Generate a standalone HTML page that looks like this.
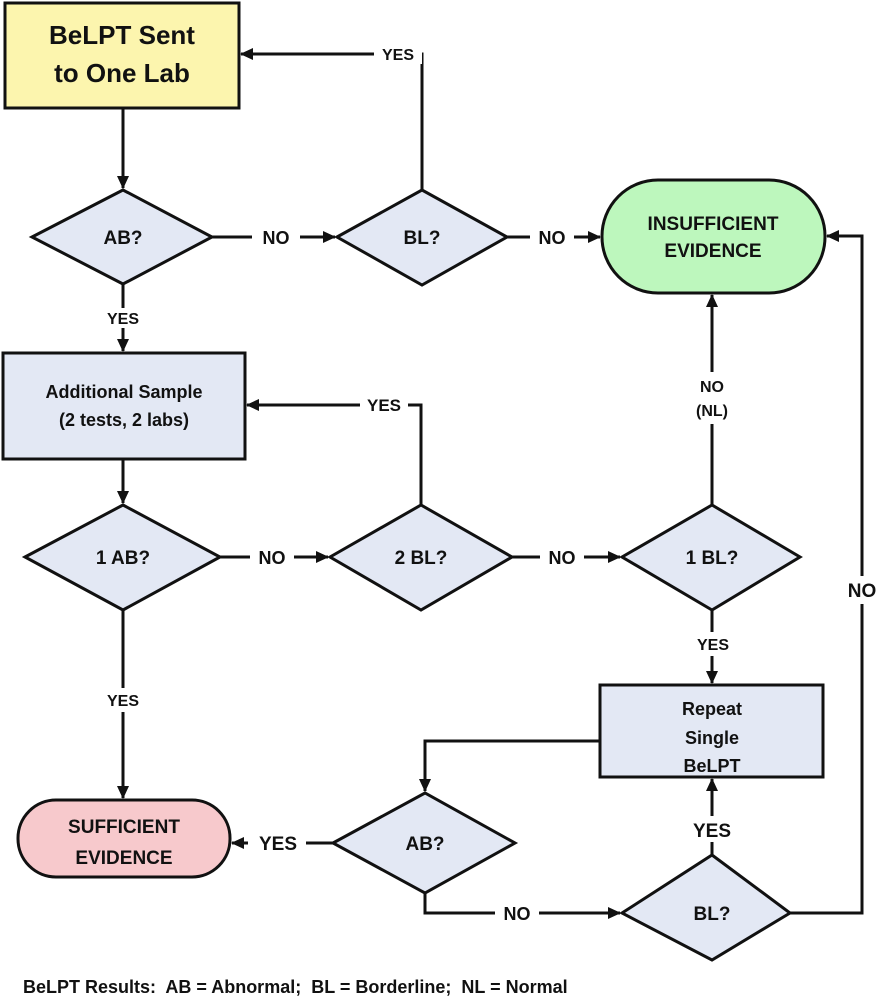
<!DOCTYPE html>
<html><head><style>
html,body{margin:0;padding:0;background:#fff;}
svg{display:block;font-family:"Liberation Sans",sans-serif;font-weight:bold;}
</style></head><body>
<svg width="880" height="1000" viewBox="0 0 880 1000" xmlns="http://www.w3.org/2000/svg">
<defs>
<marker id="a" markerWidth="14" markerHeight="14" refX="12" refY="6" orient="auto" markerUnits="userSpaceOnUse">
<path d="M0,0 L13,6 L0,12 z" fill="#111"/></marker>
</defs>
<g stroke="#111" stroke-width="3" fill="none">
<rect x="5" y="3" width="234" height="105" fill="#fcf5ae"/>
<polygon points="32,237 123,190 212,237 123,284" fill="#e3e8f4"/>
<polygon points="337,237 422,190 507,237 422,285" fill="#e3e8f4"/>
<rect x="602" y="180" width="223" height="113" rx="56" fill="#bdf7bd"/>
<rect x="3" y="353" width="242" height="106" fill="#e3e8f4"/>
<polygon points="25,557 123,505 220,557 123,610" fill="#e3e8f4"/>
<polygon points="330,557 421,505 512,557 421,610" fill="#e3e8f4"/>
<polygon points="622,557 712,505 800,557 712,610" fill="#e3e8f4"/>
<rect x="600" y="685" width="223" height="92" fill="#e3e8f4"/>
<rect x="18" y="800" width="212" height="77" rx="38" fill="#f7c9cc"/>
<polygon points="333,843 425,793 515,843 425,893" fill="#e3e8f4"/>
<polygon points="622,913 712,855 790,913 712,960" fill="#e3e8f4"/>
<path d="M123,108 V188" marker-end="url(#a)"/>
<path d="M212,237 H335" marker-end="url(#a)"/>
<path d="M422,190 V54 H241" marker-end="url(#a)"/>
<path d="M507,237 H600" marker-end="url(#a)"/>
<path d="M123,284 V351" marker-end="url(#a)"/>
<path d="M421,505 V405 H247" marker-end="url(#a)"/>
<path d="M123,459 V503" marker-end="url(#a)"/>
<path d="M220,557 H328" marker-end="url(#a)"/>
<path d="M512,557 H620" marker-end="url(#a)"/>
<path d="M712,505 V295" marker-end="url(#a)"/>
<path d="M123,610 V798" marker-end="url(#a)"/>
<path d="M712,610 V683" marker-end="url(#a)"/>
<path d="M600,741 H425 V791" marker-end="url(#a)"/>
<path d="M333,843 H232" marker-end="url(#a)"/>
<path d="M425,893 V913 H620" marker-end="url(#a)"/>
<path d="M712,855 V779" marker-end="url(#a)"/>
<path d="M790,913 H862 V236 H827" marker-end="url(#a)"/>
</g>
<g fill="#fff">
<rect x="374" y="44" width="48" height="20"/>
<rect x="252" y="227" width="48" height="20"/>
<rect x="530" y="227" width="44" height="20"/>
<rect x="98" y="308" width="50" height="20"/>
<rect x="360" y="395" width="48" height="20"/>
<rect x="250" y="547" width="44" height="20"/>
<rect x="540" y="547" width="44" height="20"/>
<rect x="690" y="372" width="44" height="52"/>
<rect x="98" y="688" width="50" height="24"/>
<rect x="688" y="632" width="50" height="24"/>
<rect x="248" y="832" width="58" height="22"/>
<rect x="495" y="902" width="44" height="22"/>
<rect x="686" y="816" width="52" height="26"/>
<rect x="840" y="576" width="44" height="28"/>
</g>
<g fill="#111" text-anchor="middle">
<text x="122" y="44" font-size="26">BeLPT Sent</text>
<text x="122" y="82" font-size="26">to One Lab</text>
<text x="123" y="244" font-size="19">AB?</text>
<text x="422" y="244" font-size="19">BL?</text>
<text x="713" y="230" font-size="19">INSUFFICIENT</text>
<text x="713" y="257" font-size="19">EVIDENCE</text>
<text x="124" y="398" font-size="18">Additional Sample</text>
<text x="124" y="426" font-size="18">(2 tests, 2 labs)</text>
<text x="123" y="564" font-size="19">1 AB?</text>
<text x="421" y="564" font-size="19">2 BL?</text>
<text x="712" y="564" font-size="19">1 BL?</text>
<text x="712" y="715" font-size="18">Repeat</text>
<text x="712" y="744" font-size="18">Single</text>
<text x="712" y="772" font-size="18">BeLPT</text>
<text x="124" y="833" font-size="19">SUFFICIENT</text>
<text x="124" y="864" font-size="19">EVIDENCE</text>
<text x="425" y="850" font-size="19">AB?</text>
<text x="712" y="920" font-size="19">BL?</text>
<g font-size="16">
<text x="398" y="60">YES</text>
<text x="276" y="244" font-size="18">NO</text>
<text x="552" y="244" font-size="18">NO</text>
<text x="123" y="324">YES</text>
<text x="384" y="411" font-size="17">YES</text>
<text x="272" y="564" font-size="18">NO</text>
<text x="562" y="564" font-size="18">NO</text>
<text x="712" y="392">NO</text>
<text x="712" y="416">(NL)</text>
<text x="123" y="706">YES</text>
<text x="713" y="650">YES</text>
<text x="278" y="850" font-size="19">YES</text>
<text x="517" y="920" font-size="18">NO</text>
<text x="712" y="837" font-size="19">YES</text>
<text x="862" y="597" font-size="19">NO</text>
</g>
<text x="23" y="993" font-size="18" text-anchor="start" xml:space="preserve">BeLPT Results:  AB = Abnormal;  BL = Borderline;  NL = Normal</text>
</g>
</svg>
</body></html>
